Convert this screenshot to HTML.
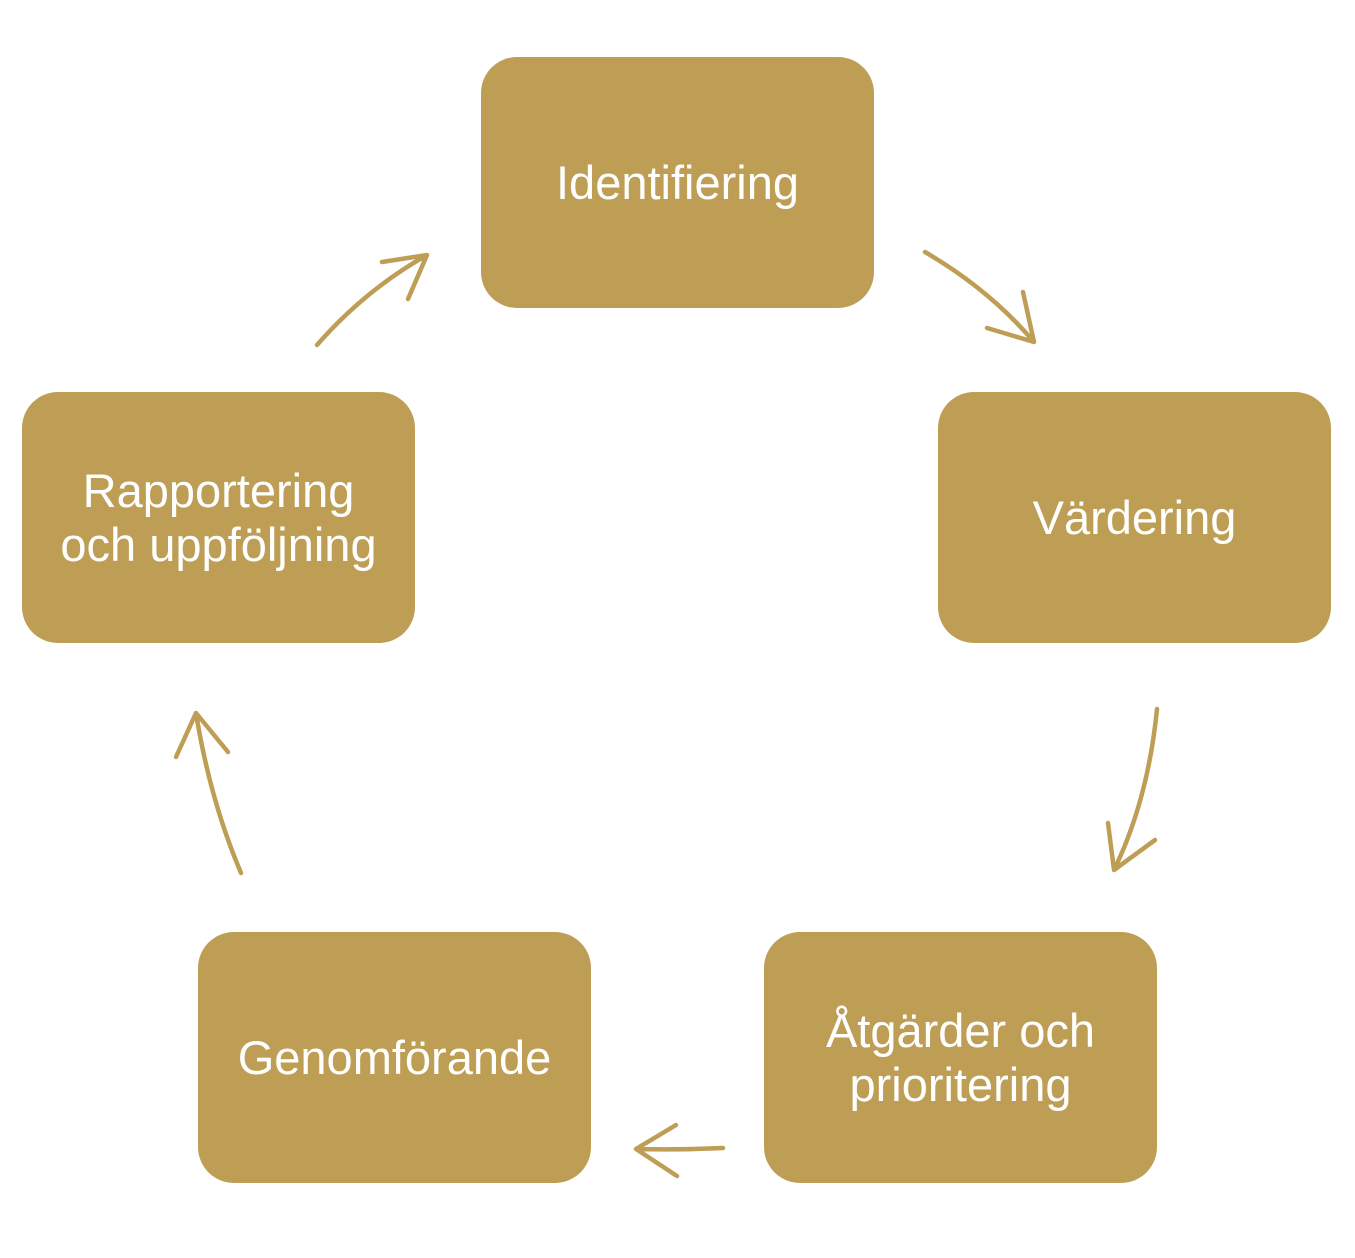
<!DOCTYPE html>
<html><head><meta charset="utf-8"><style>
body{margin:0;width:1355px;height:1258px;background:#fff;position:relative;overflow:hidden;font-family:"Liberation Sans",Arial,sans-serif}
.b{position:absolute;background:#BE9E55;border-radius:36px;color:#fff;display:flex;align-items:center;justify-content:center;text-align:center;font-size:47px;line-height:54px;width:393px;height:251px}
svg{position:absolute;left:0;top:0}
</style></head><body>
<div class="b" style="left:481px;top:57px">Identifiering</div>
<div class="b" style="left:938px;top:392px">Värdering</div>
<div class="b" style="left:764px;top:932px">Åtgärder och<br>prioritering</div>
<div class="b" style="left:198px;top:932px">Genomförande</div>
<div class="b" style="left:22px;top:392px">Rapportering<br>och uppföljning</div>
<svg width="1355" height="1258" fill="none" stroke="#BE9E55" stroke-width="4.5" stroke-linecap="round" stroke-linejoin="round">
<path d="M925 252 Q990 290 1034 342 M1023 292 L1034 342 L987 328"/>
<path d="M1157 709 Q1148 800 1114 870 M1108 823 L1114 870 L1155 840"/>
<path d="M723 1148 Q680 1150 636 1149 M676 1125 L636 1149 L677 1176"/>
<path d="M241 873 Q210 800 196 713 M176 757 L196 713 L228 752"/>
<path d="M317 345 Q365 290 427 255 M382 262 L427 255 L408 299"/>
</svg>
</body></html>
